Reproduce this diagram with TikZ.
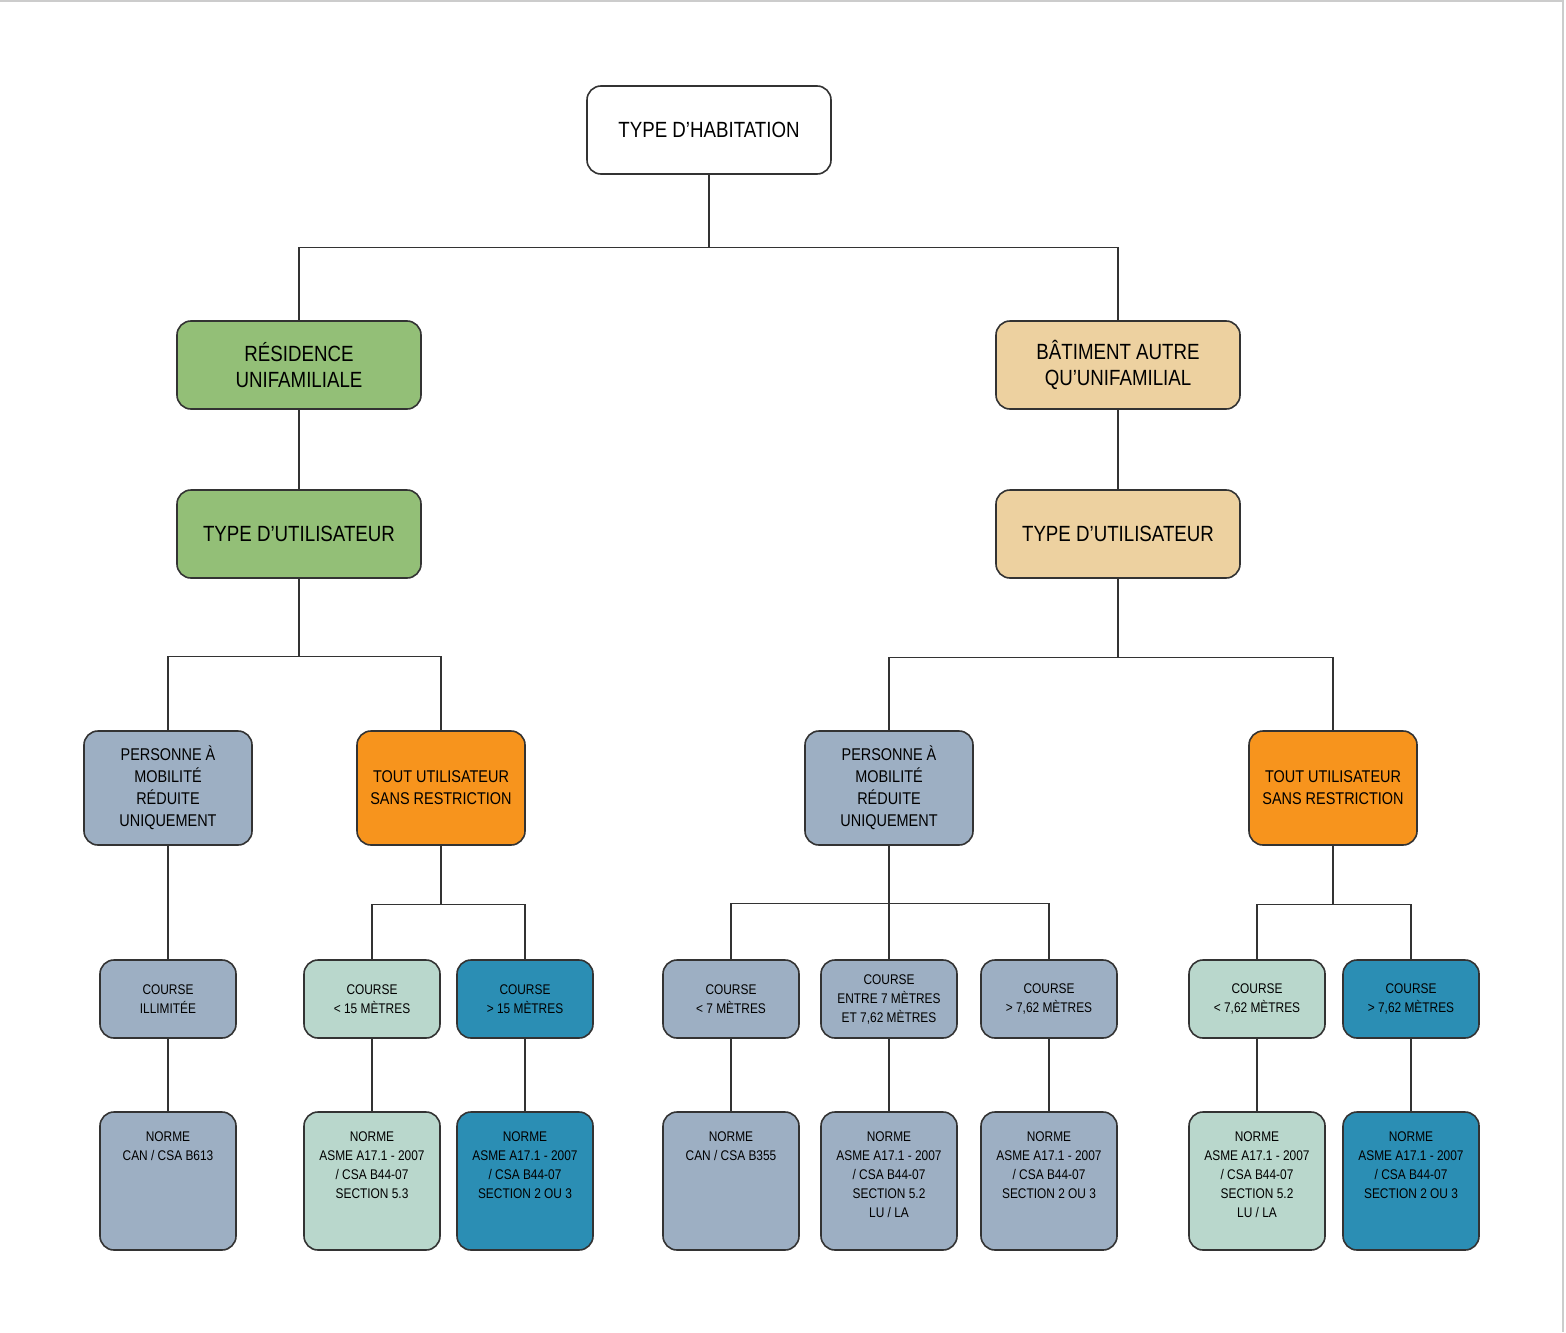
\documentclass[tikz,border=0pt]{standalone}
\usepackage{fontspec}
\setmainfont{Liberation Sans}[FakeStretch=0.85]
\usetikzlibrary{positioning}
\definecolor{vertres}{HTML}{93BF77}
\definecolor{beigebat}{HTML}{EDD1A0}
\definecolor{grisbleu}{HTML}{9DAFC3}
\definecolor{orangeut}{HTML}{F7941D}
\definecolor{vertpale}{HTML}{B9D7CC}
\definecolor{bleuteal}{HTML}{2B8EB4}
\definecolor{bordure}{HTML}{333333}

\tikzset{
  boite/.style={draw=bordure, line width=0.8pt, rounded corners=7pt, align=center, inner sep=1pt},
  grande/.style={boite, minimum width=122pt, minimum height=44pt, font=\fontsize{11}{13}\selectfont},
  moyenne/.style={boite, minimum width=84pt, minimum height=57pt, font=\fontsize{8.5}{11}\selectfont},
  petite/.style={boite, minimum width=68pt, minimum height=39pt, font=\fontsize{7}{9.5}\selectfont},
  norme/.style={boite, minimum width=68pt, minimum height=69pt},
  lien/.style={draw=bordure, line width=0.6pt}
}

\begin{document}
\begin{tikzpicture}[x=0.5pt, y=-0.5pt]
\useasboundingbox (0,0) rectangle (1566,1332);
\fill[white] (0,0) rectangle (1566,1332);
\draw[gray!40, line width=0.6pt] (0,1) -- (1563,1) -- (1563,1332);

% niveau 1 et 2
\node[grande, fill=white] (hab) at (709,130) {TYPE D’HABITATION};
\node[grande, fill=vertres] (res) at (299,365) {RÉSIDENCE\\UNIFAMILIALE};
\node[grande, fill=vertres] (utilg) at (299,534) {TYPE D’UTILISATEUR};
\node[grande, fill=beigebat] (bat) at (1118,365) {BÂTIMENT AUTRE\\QU’UNIFAMILIAL};
\node[grande, fill=beigebat] (utild) at (1118,534) {TYPE D’UTILISATEUR};

% niveau 3
\node[moyenne, fill=grisbleu] (pmrg) at (168,788) {PERSONNE À\\MOBILITÉ\\RÉDUITE\\UNIQUEMENT};
\node[moyenne, fill=orangeut] (toutg) at (441,788) {TOUT UTILISATEUR\\SANS RESTRICTION};
\node[moyenne, fill=grisbleu] (pmrd) at (889,788) {PERSONNE À\\MOBILITÉ\\RÉDUITE\\UNIQUEMENT};
\node[moyenne, fill=orangeut] (toutd) at (1333,788) {TOUT UTILISATEUR\\SANS RESTRICTION};

% niveau 4
\node[petite, fill=grisbleu] (c1) at (168,999) {COURSE\\ILLIMITÉE};
\node[petite, fill=vertpale] (c2) at (372,999) {COURSE\\< 15 MÈTRES};
\node[petite, fill=bleuteal] (c3) at (525,999) {COURSE\\> 15 MÈTRES};
\node[petite, fill=grisbleu] (c4) at (731,999) {COURSE\\< 7 MÈTRES};
\node[petite, fill=grisbleu] (c5) at (889,999) {COURSE\\ENTRE 7 MÈTRES\\ET 7,62 MÈTRES};
\node[petite, fill=grisbleu] (c6) at (1049,999) {COURSE\\> 7,62 MÈTRES};
\node[petite, fill=vertpale] (c7) at (1257,999) {COURSE\\< 7,62 MÈTRES};
\node[petite, fill=bleuteal] (c8) at (1411,999) {COURSE\\> 7,62 MÈTRES};

% niveau 5
\foreach \i/\x/\col/\txt in {
  1/168/grisbleu/{NORME\\CAN / CSA B613},
  2/372/vertpale/{NORME\\ASME A17.1 - 2007\\/ CSA B44-07\\SECTION 5.3},
  3/525/bleuteal/{NORME\\ASME A17.1 - 2007\\/ CSA B44-07\\SECTION 2 OU 3},
  4/731/grisbleu/{NORME\\CAN / CSA B355},
  5/889/grisbleu/{NORME\\ASME A17.1 - 2007\\/ CSA B44-07\\SECTION 5.2\\LU / LA},
  6/1049/grisbleu/{NORME\\ASME A17.1 - 2007\\/ CSA B44-07\\SECTION 2 OU 3},
  7/1257/vertpale/{NORME\\ASME A17.1 - 2007\\/ CSA B44-07\\SECTION 5.2\\LU / LA},
  8/1411/bleuteal/{NORME\\ASME A17.1 - 2007\\/ CSA B44-07\\SECTION 2 OU 3}}
{
  \node[norme, fill=\col] (n\i) at (\x,1181) {};
  \node[anchor=north, align=center, inner sep=0pt, font=\fontsize{7}{9.5}\selectfont] (t\i) at ([yshift=-10pt]n\i.north) {\txt};
}

% liens
\draw[lien] (hab.south) -- ++(0,73) -| (res.north);
\draw[lien] (hab.south) -- ++(0,73) -| (bat.north);
\draw[lien] (res) -- (utilg);
\draw[lien] (bat) -- (utild);
\draw[lien] (utilg.south) -- ++(0,78) -| (pmrg.north);
\draw[lien] (utilg.south) -- ++(0,78) -| (toutg.north);
\draw[lien] (utild.south) -- ++(0,79) -| (pmrd.north);
\draw[lien] (utild.south) -- ++(0,79) -| (toutd.north);
\draw[lien] (pmrg) -- (c1);
\draw[lien] (toutg.south) -- ++(0,59) -| (c2.north);
\draw[lien] (toutg.south) -- ++(0,59) -| (c3.north);
\draw[lien] (pmrd.south) -- ++(0,58) -| (c4.north);
\draw[lien] (pmrd) -- (c5);
\draw[lien] (pmrd.south) -- ++(0,58) -| (c6.north);
\draw[lien] (toutd.south) -- ++(0,59) -| (c7.north);
\draw[lien] (toutd.south) -- ++(0,59) -| (c8.north);
\foreach \i in {1,...,8}
  \draw[lien] (c\i) -- (n\i);
\end{tikzpicture}
\end{document}
